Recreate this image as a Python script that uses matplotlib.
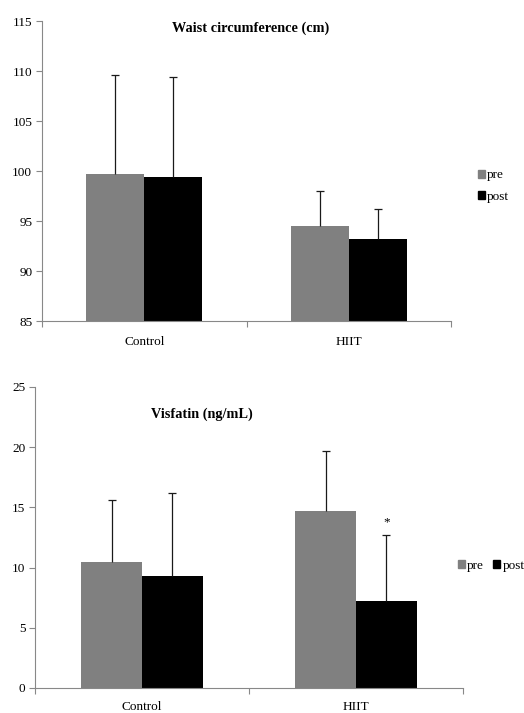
import matplotlib.pyplot as plt
from matplotlib.patches import Patch

plt.rcParams['font.family'] = ['Liberation Serif', 'DejaVu Serif']

groups = ['Control', 'HIIT']
series = ['pre', 'post']
colors = ['#808080', '#000000']

waist_pre = [99.7, 94.5]
waist_post = [99.4, 93.2]
waist_pre_sd = [9.9, 3.5]
waist_post_sd = [10.0, 3.0]

visf_pre = [10.5, 14.7]
visf_post = [9.3, 7.2]
visf_pre_sd = [5.1, 5.0]
visf_post_sd = [6.9, 5.5]

W, H = 524, 713
fig = plt.figure(figsize=(W / 100, H / 100), dpi=100)
FS = 9.5


def px_axes(left, top, right, bottom):
    return fig.add_axes([left / W, 1 - bottom / H, (right - left) / W, (bottom - top) / H])


def draw(ax, pre, post, pre_sd, post_sd, ylim, step, xpad):
    w = 0.284
    xs = range(len(groups))
    for vals, sd, col, off in [(pre, pre_sd, colors[0], -w / 2), (post, post_sd, colors[1], w / 2)]:
        pos = [x + off for x in xs]
        ax.bar(pos, [v - ylim[0] for v in vals], bottom=ylim[0], width=w, color=col, zorder=2)
        eb = ax.errorbar(pos, vals, yerr=[[0] * len(vals), sd], fmt='none', ecolor='#1a1a1a',
                         elinewidth=0.9, capsize=3, capthick=0.9, zorder=3)
        eb[1][0].set_visible(False)  # no cap at the bar top
    ax.set_xlim(-0.5, len(groups) - 0.5)
    ax.set_ylim(*ylim)
    ax.set_yticks([ylim[0] + i * step for i in range(int((ylim[1] - ylim[0]) / step) + 1)])
    ax.set_xticks([-0.5, 0.5, 1.5])
    ax.set_xticklabels([])
    ax.set_xticks(list(xs), minor=True)
    ax.set_xticklabels(groups, minor=True)
    ax.tick_params(axis='x', which='minor', length=0, pad=xpad, labelsize=FS)
    ax.tick_params(axis='x', which='major', length=4, width=0.8, color='#888888')
    ax.tick_params(axis='y', length=4, width=0.8, color='#888888', labelsize=FS, pad=3)
    for s in ['top', 'right']:
        ax.spines[s].set_visible(False)
    for s in ['left', 'bottom']:
        ax.spines[s].set_color('#888888')
        ax.spines[s].set_linewidth(0.8)


handles = [Patch(color=c, label=s) for c, s in zip(colors, series)]

ax1 = px_axes(42, 21, 451, 321)
draw(ax1, waist_pre, waist_post, waist_pre_sd, waist_post_sd, (85, 115), 5, 11)
ax1.text(0.51, 0.975, 'Waist circumference (cm)', transform=ax1.transAxes, ha='center', va='center',
         fontsize=10.3, fontweight='bold')
fig.legend(handles=handles, loc='center left', bbox_to_anchor=(466 / W, 1 - 186 / H), frameon=False,
           handlelength=0.55, handleheight=0.55, handletextpad=0.15, labelspacing=0.7, fontsize=FS)

ax2 = px_axes(35, 387, 463, 688)
draw(ax2, visf_pre, visf_post, visf_pre_sd, visf_post_sd, (0, 25), 5, 9)
ax2.text(0.39, 0.91, 'Visfatin (ng/mL)', transform=ax2.transAxes, ha='center', va='center',
         fontsize=10.3, fontweight='bold')
ax2.text(1 + 0.284 / 2, visf_post[1] + visf_post_sd[1] + 0.6, '*', ha='center', va='bottom', fontsize=FS)
fig.legend(handles=handles, loc='center left', bbox_to_anchor=(446 / W, 1 - 566 / H), frameon=False,
           ncol=2, handlelength=0.55, handleheight=0.55, handletextpad=0.15, columnspacing=0.7,
           fontsize=FS)

fig.savefig('out.png', dpi=100)
